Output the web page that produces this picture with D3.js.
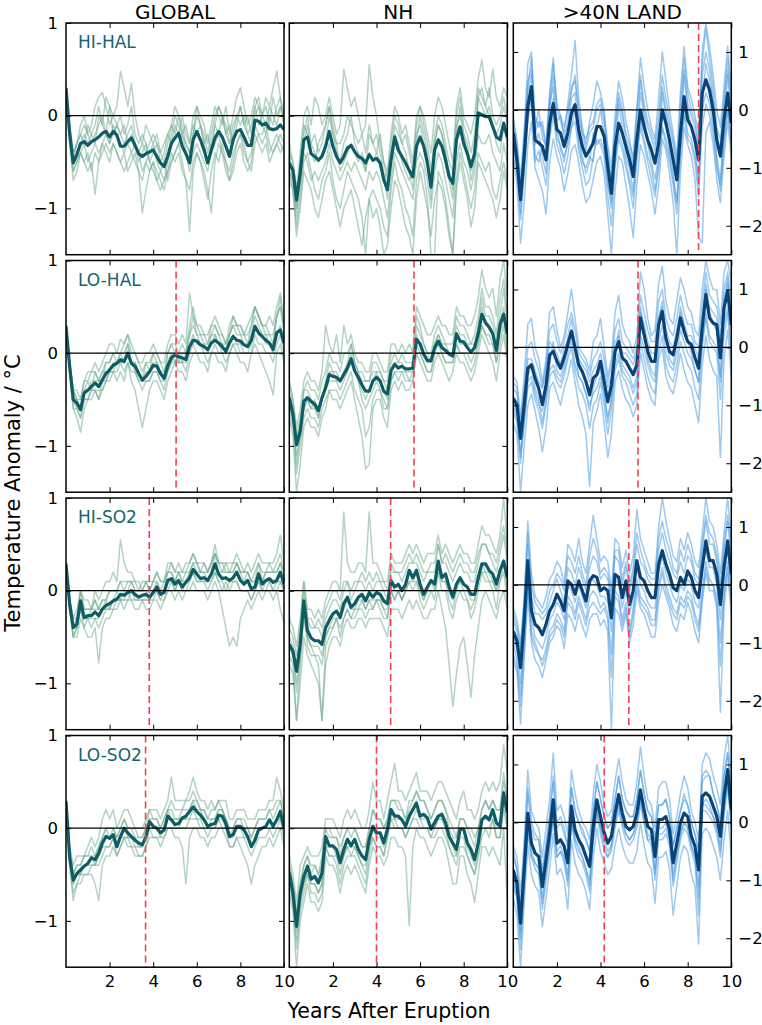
<!DOCTYPE html>
<html><head><meta charset="utf-8">
<script src="https://cdn.jsdelivr.net/npm/d3@7"></script>
<style>body{margin:0;background:#fff}svg{display:block}text{font-family:"DejaVu Sans",sans-serif}</style>
</head><body><svg id="c" width="762" height="1025"></svg>
<script>
const columns = ["GLOBAL", "NH", ">40N LAND"];
const experiments = ["HI-HAL", "LO-HAL", "HI-SO2", "LO-SO2"];
const xTicks = [2, 4, 6, 8, 10];
const yTicksLeft = [1, 0, -1];
const yTicksRight = [1, 0, -1, -2];
// recovery year (red dashed line) per experiment row, per column
const recoveryYears = [[null, null, 8.5], [5.05, 5.72, 5.72], [3.82, 4.65, 5.3], [3.65, 4.0, 4.17]];

// ---- HI-HAL ----
const hiHalGlobalMean = [0.3,-0.19,-0.51,-0.42,-0.3,-0.28,-0.32,-0.28,-0.26,-0.23,-0.19,-0.17,-0.23,-0.17,-0.21,-0.33,-0.33,-0.28,-0.24,-0.32,-0.41,-0.44,-0.41,-0.39,-0.37,-0.44,-0.51,-0.55,-0.44,-0.3,-0.24,-0.19,-0.33,-0.41,-0.51,-0.26,-0.17,-0.26,-0.37,-0.51,-0.37,-0.24,-0.17,-0.23,-0.33,-0.44,-0.26,-0.17,-0.15,-0.23,-0.32,-0.32,-0.05,-0.06,-0.1,-0.08,-0.14,-0.15,-0.14,-0.1,-0.15];
const hiHalGlobalMembers = [
[0.3,-0.1,-0.4,-0.3,-0.1,0.0,-0.2,-0.1,0.1,0.2,0.25,0.1,-0.1,0.0,0.1,0.48,0.3,0.1,0.35,0.0,-0.2,-0.3,-0.1,-0.2,-0.3,-0.2,-0.4,-0.5,-0.3,-0.1,0.1,0.0,-0.2,-0.1,-0.3,0.0,0.1,0.0,-0.1,-0.3,-0.1,0.1,0.0,-0.1,0.1,-0.2,0.0,0.2,0.3,0.1,-0.1,0.0,0.2,0.1,0.0,0.2,0.1,0.3,0.48,0.2,0.0],
[0.3,-0.3,-0.6,-0.5,-0.4,-0.5,-0.6,-0.5,-0.85,-0.5,-0.4,-0.3,-0.4,-0.3,-0.4,-0.5,-0.6,-0.5,-0.4,-0.5,-0.6,-1.05,-0.8,-0.6,-0.5,-0.6,-0.7,-0.8,-0.6,-0.5,-0.4,-0.3,-0.5,-0.7,-1.25,-0.6,-0.4,-0.5,-0.6,-0.8,-1.05,-0.5,-0.3,-0.4,-0.6,-0.7,-0.5,-0.3,-0.2,-0.4,-0.5,-0.6,-0.3,-0.2,-0.3,-0.2,-0.4,-0.3,-0.2,-0.3,-0.4],
[0.3,-0.2,-0.5,-0.4,-0.3,-0.2,-0.3,-0.2,-0.1,0.1,-0.1,0.2,0.1,-0.2,-0.1,-0.2,-0.3,-0.2,-0.1,-0.3,-0.4,-0.6,-0.5,-0.4,-0.3,-0.5,-0.6,-0.7,-0.5,-0.2,0.0,-0.1,-0.2,-0.3,-0.4,-0.2,0.1,-0.1,-0.3,-0.5,-0.3,-0.1,0.1,0.0,-0.2,-0.3,-0.1,0.0,0.1,-0.1,-0.2,-0.1,0.1,0.2,0.0,-0.1,0.1,0.0,-0.1,0.1,-0.1],
[0.3,-0.2,-0.6,-0.5,-0.4,-0.3,-0.5,-0.4,-0.3,-0.4,-0.3,-0.2,-0.3,-0.1,-0.2,-0.3,-0.4,-0.3,-0.2,-0.3,-0.5,-0.4,-0.3,-0.5,-0.6,-0.7,-0.6,-0.5,-0.7,-0.5,-0.4,-0.3,-0.2,-0.4,-0.6,-0.4,-0.3,-0.4,-0.5,-0.6,-0.4,-0.3,-0.2,-0.4,-0.5,-0.6,-0.4,-0.3,-0.2,-0.3,-0.5,-0.4,-0.1,-0.2,-0.2,-0.1,-0.3,-0.4,-0.3,-0.2,-0.3],
[0.3,-0.1,-0.4,-0.3,-0.2,-0.1,-0.2,-0.3,-0.2,-0.1,0.0,-0.2,-0.3,-0.2,-0.1,-0.2,-0.1,-0.3,-0.4,-0.3,-0.4,-0.3,-0.4,-0.3,-0.2,-0.3,-0.4,-0.3,-0.2,-0.1,-0.2,0.0,-0.1,-0.3,-0.4,-0.2,0.0,-0.1,-0.2,-0.4,-0.2,0.0,0.1,0.0,-0.1,-0.3,-0.2,0.0,-0.1,0.0,-0.2,-0.3,0.0,0.1,-0.1,-0.2,0.0,-0.1,0.1,0.2,-0.1],
[0.3,-0.2,-0.5,-0.3,-0.2,-0.3,-0.1,-0.2,-0.3,0.0,-0.1,-0.2,0.1,0.0,-0.1,0.0,-0.2,-0.1,0.1,-0.2,-0.3,-0.2,-0.3,-0.5,-0.4,-0.3,-0.5,-0.4,-0.2,-0.3,-0.1,-0.2,0.0,-0.2,-0.3,-0.1,-0.2,-0.1,-0.3,-0.2,-0.4,-0.1,-0.2,0.0,-0.2,-0.1,-0.3,-0.1,0.1,-0.1,0.0,-0.2,0.1,-0.1,0.0,0.1,-0.1,0.2,0.0,0.1,0.0],
[0.3,-0.3,-0.7,-0.6,-0.4,-0.5,-0.4,-0.6,-0.4,-0.5,-0.3,-0.4,-0.5,-0.3,-0.4,-0.5,-0.4,-0.6,-0.5,-0.4,-0.6,-0.7,-0.5,-0.6,-0.5,-0.7,-0.8,-0.7,-0.6,-0.4,-0.5,-0.4,-0.6,-0.7,-0.8,-0.5,-0.4,-0.5,-0.7,-0.9,-0.6,-0.4,-0.5,-0.3,-0.5,-0.7,-0.6,-0.4,-0.3,-0.5,-0.6,-0.5,-0.2,-0.3,-0.4,-0.3,-0.5,-0.4,-0.3,-0.4,-0.3]];
const hiHalNhMean = [-0.51,-0.59,-0.91,-0.62,-0.26,-0.23,-0.41,-0.44,-0.48,-0.44,-0.33,-0.17,-0.33,-0.44,-0.51,-0.44,-0.35,-0.32,-0.39,-0.44,-0.46,-0.51,-0.42,-0.48,-0.46,-0.51,-0.69,-0.8,-0.48,-0.23,-0.37,-0.44,-0.51,-0.59,-0.66,-0.33,-0.23,-0.33,-0.51,-0.77,-0.37,-0.26,-0.33,-0.48,-0.66,-0.73,-0.26,-0.12,-0.3,-0.41,-0.55,-0.41,0.03,0.01,-0.01,-0.01,-0.12,-0.23,-0.26,-0.08,-0.23];
const hiHalNhMembers = [
[-0.3,-0.5,-0.8,-0.4,0.0,0.1,-0.1,0.2,0.1,-0.1,0.0,0.2,0.0,-0.2,-0.1,0.5,0.3,0.1,0.2,0.0,-0.2,-0.1,0.55,0.2,0.0,-0.3,-0.5,-0.6,-0.2,0.1,0.0,-0.2,-0.1,-0.3,-0.5,0.0,0.1,0.0,-0.2,-0.4,0.0,0.2,0.1,-0.1,-0.3,-0.5,0.1,0.3,0.0,-0.1,-0.2,0.0,0.4,0.6,0.3,0.2,0.5,0.2,0.1,0.3,0.2],
[-0.7,-0.8,-1.2,-0.9,-0.5,-0.4,-0.6,-0.8,-0.9,-0.7,-0.6,-0.4,-0.7,-0.9,-1.0,-0.8,-0.6,-0.7,-0.8,-0.9,-1.1,-1.5,-0.9,-0.8,-0.9,-1.0,-1.2,-1.3,-0.8,-0.5,-0.7,-0.8,-1.0,-1.1,-1.3,-0.7,-0.5,-0.6,-0.9,-1.5,-1.5,-0.6,-0.7,-0.9,-1.2,-1.5,-0.7,-0.4,-0.6,-0.8,-1.0,-0.8,-0.4,-0.5,-0.6,-0.5,-0.8,-0.9,-0.7,-0.5,-0.7],
[-0.5,-0.6,-1.0,-0.7,-0.3,-0.1,-0.4,-0.5,-0.3,-0.2,-0.1,0.1,-0.2,-0.4,-0.5,-0.3,-0.2,0.0,-0.3,-0.4,-0.5,-0.6,-0.2,-0.3,-0.2,-0.4,-0.6,-0.9,-0.5,-0.1,-0.2,-0.3,-0.4,-0.6,-0.8,-0.3,0.0,-0.2,-0.4,-0.9,-0.3,-0.1,-0.2,-0.4,-0.7,-0.9,-0.2,0.1,-0.2,-0.3,-0.6,-0.3,0.2,0.1,0.0,0.1,-0.1,-0.2,-0.1,0.1,-0.1],
[-0.6,-0.7,-1.1,-0.8,-0.4,-0.5,-0.7,-0.6,-0.7,-0.6,-0.5,-0.3,-0.5,-0.6,-0.7,-0.6,-0.5,-0.6,-0.5,-0.6,-0.7,-0.8,-0.6,-0.7,-0.6,-0.7,-0.9,-1.1,-0.7,-0.4,-0.5,-0.6,-0.7,-0.8,-0.9,-0.5,-0.4,-0.5,-0.7,-1.0,-0.6,-0.4,-0.5,-0.7,-0.9,-1.1,-0.5,-0.3,-0.5,-0.6,-0.8,-0.6,-0.2,-0.3,-0.3,-0.2,-0.4,-0.5,-0.6,-0.3,-0.5],
[-0.4,-0.5,-0.8,-0.5,-0.1,-0.2,-0.3,-0.4,-0.5,-0.4,-0.3,0.0,-0.2,-0.3,-0.6,-0.5,-0.4,-0.3,-0.4,-0.5,-0.4,-0.6,-0.4,-0.5,-0.4,-0.5,-0.7,-0.6,-0.4,-0.2,-0.3,-0.5,-0.6,-0.7,-0.6,-0.2,-0.1,-0.3,-0.5,-0.7,-0.3,-0.1,-0.2,-0.4,-0.6,-0.8,-0.1,0.0,-0.2,-0.4,-0.7,-0.5,0.2,0.3,0.1,0.0,-0.1,-0.3,-0.4,-0.1,-0.3],
[-0.4,-0.7,-1.0,-0.6,-0.2,0.0,-0.3,-0.2,-0.4,-0.3,-0.1,0.1,-0.1,-0.3,-0.3,-0.2,0.0,-0.1,-0.2,-0.3,-0.2,-0.4,-0.1,-0.3,-0.4,-0.2,-0.5,-0.7,-0.3,0.0,-0.1,-0.3,-0.2,-0.4,-0.6,-0.1,0.1,-0.1,-0.3,-0.6,-0.2,0.0,-0.1,-0.3,-0.5,-0.6,0.0,0.2,-0.1,-0.2,-0.4,-0.2,0.3,0.2,0.1,0.3,0.0,-0.1,0.0,0.2,0.0],
[-0.6,-0.8,-1.3,-1.0,-0.6,-0.7,-0.8,-1.0,-1.1,-0.9,-0.7,-0.6,-0.8,-1.0,-1.2,-1.0,-0.9,-0.8,-1.0,-1.2,-1.4,-1.1,-0.9,-1.1,-1.0,-1.2,-1.5,-1.4,-1.0,-0.7,-0.8,-1.0,-1.2,-1.3,-1.5,-0.9,-0.6,-0.8,-1.0,-1.3,-0.9,-0.7,-0.8,-1.0,-1.3,-1.5,-0.8,-0.5,-0.7,-0.9,-1.2,-1.0,-0.5,-0.6,-0.7,-0.8,-0.9,-1.1,-0.9,-0.6,-0.8]];
const hiHalLandMean = [-0.4,-0.86,-1.55,-0.8,0.06,0.4,-0.52,-0.57,-0.63,-0.86,-0.23,0.11,-0.34,-0.4,-0.63,-0.4,-0.06,0.09,-0.34,-0.63,-0.8,-0.69,-0.57,-0.29,-0.29,-0.46,-0.98,-1.44,-0.63,-0.23,-0.4,-0.63,-0.86,-1.15,-0.52,0.0,-0.29,-0.52,-0.69,-0.92,-0.57,0.0,-0.23,-0.52,-0.86,-1.21,-0.4,0.23,-0.17,-0.29,-0.52,-0.86,0.29,0.52,0.34,0.0,-0.52,-0.8,-0.17,0.29,-0.23];
const hiHalLandMembers = [
[-0.2,-0.5,-1.2,-0.3,0.8,1.0,-0.3,0.0,-0.5,-0.6,0.3,0.9,0.0,-0.2,-0.4,0.1,0.6,1.2,0.2,-0.3,-0.6,-0.2,0.1,0.5,0.3,0.0,-0.6,-1.0,-0.1,0.5,0.2,-0.2,-0.5,-0.9,0.0,0.9,0.4,0.0,-0.3,-0.5,0.2,1.0,0.5,0.0,-0.4,-0.8,0.3,1.1,0.4,0.2,-0.1,-0.4,1.0,1.5,1.1,0.6,0.0,-0.3,0.4,1.1,0.4],
[-0.8,-1.3,-2.3,-1.6,-0.6,-0.2,-1.0,-1.2,-1.4,-1.8,-0.9,-0.5,-0.8,-1.0,-1.4,-1.1,-0.7,-0.6,-0.9,-1.3,-1.6,-1.5,-1.2,-0.9,-0.8,-1.1,-1.8,-2.5,-1.4,-0.8,-0.9,-1.3,-1.7,-2.2,-1.3,-0.6,-0.8,-1.1,-1.4,-1.8,-1.3,-0.5,-0.7,-1.1,-1.6,-2.5,-1.1,-0.3,-0.6,-0.8,-1.2,-2.2,-2.3,-0.4,-0.2,-0.6,-1.2,-1.6,-0.8,-0.2,-0.8],
[-0.3,-0.9,-1.8,-0.7,0.3,0.6,-0.6,-0.4,-0.8,-1.1,0.1,0.4,-0.5,-0.6,-0.9,-0.5,0.2,0.3,-0.6,-0.9,-1.0,-0.8,-0.9,-0.3,0.0,-0.4,-1.2,-1.7,-0.8,0.1,-0.3,-0.8,-1.0,-1.4,-0.6,0.3,-0.1,-0.6,-0.9,-1.2,-0.8,0.3,-0.1,-0.7,-1.1,-1.6,-0.6,0.6,0.0,-0.3,-0.6,-1.3,0.2,0.8,0.5,0.1,-0.8,-1.2,-0.3,0.6,-0.1],
[-0.6,-1.1,-1.6,-1.0,0.0,0.3,-0.8,-0.9,-0.6,-0.9,-0.4,0.2,-0.3,-0.7,-0.8,-0.6,-0.3,0.0,-0.5,-0.8,-1.1,-0.9,-0.4,-0.6,-0.5,-0.7,-1.3,-1.6,-0.9,-0.4,-0.6,-0.9,-1.2,-1.5,-0.8,-0.2,-0.5,-0.8,-1.0,-1.4,-0.9,-0.3,-0.6,-0.9,-1.3,-1.8,-0.7,0.0,-0.4,-0.5,-0.8,-1.2,0.0,0.3,0.1,-0.3,-0.9,-1.4,-0.6,0.0,-0.5],
[-0.1,-0.6,-1.4,-0.5,0.4,0.9,-0.1,-0.3,-0.2,-0.6,0.2,0.8,0.1,-0.1,-0.3,0.0,0.3,0.6,0.0,-0.4,-0.5,-0.3,-0.2,0.1,0.2,-0.1,-0.8,-1.2,-0.3,0.3,0.0,-0.4,-0.6,-0.8,0.0,0.6,0.1,-0.2,-0.4,-0.6,-0.1,0.6,0.2,-0.2,-0.5,-0.9,0.1,0.9,0.3,0.0,-0.2,-0.6,0.8,1.4,0.9,0.4,-0.3,-0.5,0.2,0.9,0.2],
[-0.5,-1.0,-1.9,-1.1,-0.2,0.2,-0.9,-0.7,-1.0,-1.3,-0.5,-0.1,-0.6,-0.8,-1.1,-0.8,-0.3,-0.2,-0.7,-1.0,-1.3,-1.2,-0.8,-0.5,-0.6,-0.8,-1.5,-2.0,-1.0,-0.5,-0.7,-1.0,-1.3,-1.7,-0.9,-0.3,-0.6,-0.9,-1.2,-1.5,-1.0,-0.3,-0.5,-0.8,-1.2,-1.6,-0.8,-0.1,-0.5,-0.6,-0.9,-1.5,-0.3,0.1,-0.1,-0.4,-1.0,-1.3,-0.5,0.0,-0.6],
[-0.3,-0.7,-1.3,-0.6,0.5,0.7,-0.4,-0.2,-0.3,-0.7,0.0,0.6,-0.2,-0.1,-0.5,-0.2,0.4,0.5,-0.1,-0.4,-0.7,-0.4,-0.3,0.0,0.1,-0.2,-0.7,-1.3,-0.4,0.2,-0.1,-0.5,-0.7,-1.0,-0.3,0.5,0.0,-0.3,-0.5,-0.7,-0.3,0.4,0.0,-0.3,-0.6,-1.0,-0.2,0.7,0.1,-0.1,-0.3,-0.7,0.6,1.0,0.7,0.2,-0.4,-0.7,0.1,0.7,0.1]];

// ---- LO-HAL ----
const loHalGlobalMean = [0.29,-0.14,-0.5,-0.54,-0.61,-0.43,-0.4,-0.36,-0.32,-0.36,-0.29,-0.22,-0.18,-0.13,-0.11,-0.07,-0.09,0.0,-0.11,-0.14,-0.22,-0.29,-0.25,-0.2,-0.13,-0.14,-0.22,-0.27,-0.14,-0.05,-0.02,-0.04,-0.05,-0.07,0.07,0.14,0.13,0.09,0.07,0.04,0.11,0.14,0.11,0.07,0.02,0.11,0.18,0.14,0.13,0.09,0.07,0.14,0.29,0.22,0.18,0.14,0.11,0.04,0.22,0.25,0.11];
const loHalGlobalMembers = [
[0.3,-0.2,-0.6,-0.7,-0.85,-0.6,-0.5,-0.5,-0.4,-0.5,-0.4,-0.3,-0.3,-0.2,-0.3,-0.2,-0.3,-0.1,-0.3,-0.4,-0.6,-0.8,-0.6,-0.4,-0.3,-0.3,-0.4,-0.5,-0.3,-0.2,-0.1,-0.2,-0.2,-0.3,-0.1,0.0,0.0,-0.1,-0.1,-0.2,0.0,0.0,-0.1,-0.1,-0.2,0.0,0.1,0.0,-0.1,-0.1,-0.2,0.0,0.1,0.0,-0.1,-0.2,-0.3,-0.45,0.0,0.1,-0.1],
[0.3,-0.1,-0.4,-0.4,-0.5,-0.3,-0.2,-0.2,-0.1,-0.2,-0.1,0.0,0.1,0.1,0.0,0.15,0.1,0.2,0.1,0.0,-0.1,-0.1,0.0,0.0,0.1,0.0,-0.1,-0.1,0.1,0.2,0.2,0.1,0.2,0.1,0.65,0.4,0.3,0.3,0.2,0.2,0.3,0.4,0.3,0.2,0.1,0.3,0.4,0.3,0.3,0.2,0.3,0.4,0.5,0.4,0.3,0.3,0.4,0.3,0.5,0.65,0.3],
[0.3,-0.2,-0.5,-0.6,-0.7,-0.5,-0.5,-0.4,-0.4,-0.5,-0.3,-0.3,-0.2,-0.2,-0.1,0.0,-0.1,0.0,-0.1,-0.2,-0.3,-0.4,-0.3,-0.3,-0.2,-0.2,-0.3,-0.4,-0.2,-0.1,0.0,-0.1,0.0,0.0,0.2,0.3,0.2,0.1,0.1,0.0,0.2,0.2,0.1,0.1,0.0,0.2,0.3,0.2,0.2,0.1,0.1,0.2,0.4,0.3,0.2,0.2,0.1,0.1,0.4,0.5,0.2],
[0.3,-0.1,-0.5,-0.5,-0.6,-0.4,-0.4,-0.3,-0.3,-0.3,-0.2,-0.2,-0.2,-0.1,-0.1,-0.1,-0.1,0.1,-0.1,-0.1,-0.2,-0.3,-0.2,-0.2,-0.1,-0.1,-0.2,-0.2,-0.1,0.0,-0.1,0.0,-0.1,-0.1,0.1,0.2,0.1,0.1,0.0,0.0,0.1,0.2,0.1,0.0,0.0,0.1,0.2,0.1,0.1,0.0,0.0,0.1,0.3,0.2,0.2,0.1,0.1,0.0,0.2,0.3,0.1],
[0.3,-0.1,-0.4,-0.5,-0.6,-0.4,-0.3,-0.4,-0.2,-0.3,-0.3,-0.1,-0.1,0.0,-0.1,0.0,0.0,0.1,-0.1,-0.1,-0.2,-0.3,-0.1,-0.2,0.0,-0.1,-0.2,-0.3,0.0,0.1,0.0,-0.1,-0.1,0.0,0.2,0.4,0.2,0.2,0.1,0.1,0.2,0.3,0.2,0.1,0.1,0.2,0.3,0.3,0.2,0.2,0.1,0.3,0.5,0.4,0.3,0.2,0.2,0.1,0.4,0.6,0.3],
[0.3,-0.2,-0.6,-0.6,-0.7,-0.5,-0.5,-0.4,-0.4,-0.4,-0.4,-0.3,-0.2,-0.2,-0.2,-0.1,-0.2,-0.1,-0.2,-0.2,-0.3,-0.3,-0.3,-0.3,-0.2,-0.2,-0.3,-0.3,-0.2,-0.1,-0.1,-0.1,-0.1,-0.2,0.0,0.1,0.0,0.0,0.0,-0.1,0.0,0.1,0.0,0.0,-0.1,0.0,0.1,0.1,0.0,0.0,0.0,0.0,0.2,0.1,0.1,0.0,0.0,-0.1,0.1,0.2,0.0],
[0.3,-0.1,-0.4,-0.5,-0.5,-0.3,-0.3,-0.2,-0.2,-0.3,-0.2,-0.1,-0.1,0.0,0.0,0.0,0.1,0.2,0.0,0.0,-0.1,-0.2,-0.1,-0.1,0.0,0.0,-0.1,-0.2,0.0,0.1,0.1,0.0,0.1,0.0,0.3,0.5,0.3,0.2,0.2,0.1,0.3,0.3,0.2,0.2,0.1,0.2,0.4,0.3,0.3,0.2,0.2,0.3,0.5,0.4,0.3,0.3,0.2,0.2,0.4,0.5,0.3]];
const loHalNhMean = [-0.48,-0.66,-0.99,-0.84,-0.52,-0.48,-0.52,-0.55,-0.62,-0.48,-0.37,-0.23,-0.25,-0.26,-0.3,-0.23,-0.16,-0.06,-0.19,-0.26,-0.34,-0.41,-0.41,-0.3,-0.26,-0.3,-0.41,-0.44,-0.19,-0.12,-0.16,-0.14,-0.17,-0.17,-0.16,0.15,0.1,-0.01,-0.08,-0.08,0.06,0.13,0.06,0.03,-0.01,-0.03,0.21,0.13,0.12,0.06,0.01,0.06,0.21,0.42,0.33,0.28,0.21,0.03,0.31,0.42,0.21];
const loHalNhMembers = [
[-0.7,-0.9,-1.5,-1.2,-0.8,-0.7,-0.8,-0.8,-0.9,-0.7,-0.6,-0.4,-0.5,-0.5,-0.6,-0.5,-0.4,-0.3,-0.5,-0.7,-0.9,-1.25,-1.2,-0.6,-0.5,-0.5,-0.7,-0.8,-0.4,-0.3,-0.4,-0.3,-0.4,-0.4,-0.3,0.0,-0.1,-0.2,-0.3,-0.3,-0.1,0.0,-0.1,-0.2,-0.3,-0.2,0.0,-0.1,-0.1,-0.2,-0.3,-0.2,0.0,0.2,0.1,0.0,-0.1,-0.3,0.0,0.2,-0.1],
[-0.3,-0.5,-0.8,-0.6,-0.3,-0.2,-0.3,-0.3,-0.4,-0.2,0.3,0.1,0.0,0.2,-0.1,0.3,0.1,0.2,0.0,-0.1,-0.1,-0.2,-0.2,0.0,0.0,-0.1,-0.2,-0.2,0.1,0.1,0.0,0.1,0.0,0.1,0.0,0.5,0.4,0.3,0.2,0.2,0.3,0.4,0.3,0.3,0.2,0.2,0.5,0.4,0.4,0.3,0.3,0.4,0.6,0.9,0.7,0.6,0.7,0.4,0.8,1.0,0.6],
[-0.5,-0.7,-1.1,-0.9,-0.6,-0.5,-0.6,-0.5,-0.7,-0.5,-0.4,-0.2,-0.2,-0.3,-0.3,-0.2,-0.2,0.0,-0.2,-0.3,-0.4,-0.5,-0.4,-0.3,-0.2,-0.3,-0.4,-0.5,-0.2,-0.1,-0.1,-0.1,-0.2,-0.2,-0.2,0.2,0.1,0.0,-0.1,-0.1,0.1,0.2,0.1,0.0,0.0,0.0,0.2,0.1,0.1,0.1,0.0,0.1,0.2,0.5,0.3,0.3,0.2,0.0,0.3,0.5,0.2],
[-0.4,-0.6,-0.9,-0.8,-0.4,-0.4,-0.5,-0.6,-0.6,-0.5,-0.3,-0.1,-0.2,-0.2,-0.3,-0.2,-0.1,0.1,-0.1,-0.2,-0.3,-0.3,-0.3,-0.2,-0.2,-0.2,-0.3,-0.4,-0.1,0.0,-0.1,0.0,-0.1,-0.1,-0.1,0.3,0.2,0.1,0.0,-0.1,0.1,0.2,0.1,0.1,0.0,0.0,0.3,0.2,0.2,0.1,0.1,0.1,0.3,0.6,0.4,0.4,0.3,0.1,0.4,0.7,0.3],
[-0.6,-0.8,-1.3,-1.0,-0.7,-0.6,-0.7,-0.7,-0.8,-0.6,-0.5,-0.4,-0.4,-0.4,-0.5,-0.4,-0.3,-0.2,-0.4,-0.5,-0.6,-0.9,-0.8,-0.5,-0.4,-0.4,-0.6,-0.6,-0.3,-0.2,-0.3,-0.2,-0.3,-0.3,-0.3,0.0,0.0,-0.1,-0.2,-0.2,0.0,0.1,0.0,-0.1,-0.1,-0.1,0.1,0.0,0.0,-0.1,-0.2,-0.1,0.1,0.3,0.2,0.1,0.1,-0.1,0.1,0.3,0.0],
[-0.5,-0.7,-1.2,-0.9,-0.6,-0.5,-0.6,-0.6,-0.7,-0.5,-0.4,-0.3,-0.3,-0.3,-0.4,-0.3,-0.2,-0.1,-0.2,-0.3,-0.5,-0.6,-0.5,-0.4,-0.3,-0.4,-0.5,-0.6,-0.3,-0.2,-0.2,-0.2,-0.2,-0.3,-0.2,0.1,0.0,-0.1,-0.2,-0.2,0.0,0.0,0.0,-0.1,-0.1,-0.1,0.1,0.0,0.0,0.0,-0.1,0.0,0.1,0.3,0.2,0.2,0.1,-0.1,0.2,0.4,0.1],
[-0.3,-0.5,-0.9,-0.7,-0.4,-0.3,-0.4,-0.4,-0.5,-0.3,-0.2,0.0,-0.1,-0.1,-0.2,0.0,0.0,0.1,-0.1,-0.2,-0.2,-0.3,-0.3,-0.1,-0.1,-0.2,-0.3,-0.3,0.0,0.0,0.0,0.0,0.0,0.0,0.0,0.4,0.3,0.1,0.0,0.0,0.2,0.3,0.2,0.1,0.1,0.1,0.4,0.3,0.3,0.2,0.1,0.2,0.4,0.7,0.5,0.5,0.4,0.2,0.6,0.8,0.4]];
const loHalLandMean = [-0.88,-0.99,-1.57,-0.99,-0.36,-0.3,-0.53,-0.71,-0.99,-0.65,-0.13,-0.07,-0.24,-0.36,-0.18,0.05,0.28,-0.01,-0.3,-0.42,-0.59,-0.82,-0.53,-0.47,-0.24,-0.59,-0.94,-0.65,-0.07,0.1,-0.18,-0.24,-0.36,-0.47,-0.3,0.51,0.22,-0.07,-0.24,-0.24,0.39,0.62,0.16,-0.07,-0.13,0.16,0.51,0.28,0.1,0.05,-0.18,-0.36,0.34,0.91,0.51,0.42,0.39,-0.18,0.68,0.97,0.39];
const loHalLandMembers = [
[-0.5,-0.6,-1.2,-0.5,0.4,0.5,0.0,-0.2,-0.6,-0.2,0.6,0.7,0.3,0.0,0.2,0.6,1.0,0.5,0.0,-0.1,-0.2,-0.4,0.1,0.2,0.5,0.0,-0.5,-0.2,0.6,0.9,0.4,0.2,0.1,-0.1,0.2,1.3,1.0,0.5,0.2,0.3,1.1,1.4,0.8,0.5,0.4,0.8,1.2,1.0,0.7,0.6,0.3,0.2,1.0,1.5,1.2,1.0,1.0,0.4,1.3,1.5,1.1],
[-1.3,-1.5,-2.5,-1.7,-1.0,-0.8,-1.1,-1.4,-1.8,-1.4,-0.7,-0.6,-0.8,-1.0,-0.7,-0.5,-0.2,-0.6,-1.0,-1.2,-1.5,-2.4,-1.3,-1.1,-0.8,-1.3,-1.9,-1.5,-0.6,-0.4,-0.7,-0.9,-1.0,-1.2,-1.0,-0.1,-0.4,-0.7,-0.9,-1.0,-0.2,0.0,-0.5,-0.7,-0.8,-0.5,-0.1,-0.4,-0.6,-0.7,-1.0,-1.3,-0.3,0.2,-0.2,-0.4,-0.5,-1.9,-0.2,0.3,-0.5],
[-0.9,-1.1,-1.9,-1.2,-0.5,-0.3,-0.7,-0.9,-1.3,-0.9,-0.3,0.1,-0.4,-0.5,-0.3,0.2,0.5,0.0,-0.5,-0.6,-0.8,-1.1,-0.7,-0.5,-0.4,-0.8,-1.3,-0.9,-0.2,0.3,-0.3,-0.4,-0.5,-0.7,-0.5,0.7,0.3,-0.2,-0.4,-0.5,0.5,0.8,0.2,-0.2,-0.3,0.1,0.7,0.4,0.1,-0.1,-0.4,-0.6,0.4,1.1,0.6,0.4,0.3,-0.6,0.8,1.2,0.3],
[-0.7,-0.8,-1.4,-0.8,-0.2,-0.2,-0.4,-0.6,-0.7,-0.4,0.1,0.0,-0.1,-0.3,0.0,0.1,0.3,0.1,-0.2,-0.3,-0.4,-0.6,-0.4,-0.3,-0.1,-0.4,-0.7,-0.5,0.1,0.2,-0.1,-0.1,-0.2,-0.3,-0.1,0.6,0.4,0.1,-0.1,-0.1,0.5,0.7,0.3,0.1,0.0,0.3,0.6,0.4,0.2,0.2,0.0,-0.2,0.5,1.0,0.7,0.6,0.5,0.0,0.8,1.1,0.6],
[-1.0,-1.2,-1.8,-1.3,-0.6,-0.5,-0.8,-1.0,-1.1,-0.8,-0.4,-0.3,-0.5,-0.6,-0.4,-0.1,0.1,-0.3,-0.5,-0.6,-0.8,-1.0,-0.8,-0.7,-0.5,-0.8,-1.2,-0.9,-0.3,-0.1,-0.4,-0.5,-0.6,-0.8,-0.6,0.2,0.0,-0.3,-0.5,-0.6,0.1,0.4,-0.1,-0.3,-0.4,-0.1,0.3,0.1,-0.1,-0.2,-0.4,-0.6,0.1,0.6,0.2,0.1,0.0,-0.5,0.4,0.7,0.0],
[-1.1,-1.3,-2.0,-1.3,-0.7,-0.6,-0.9,-1.1,-1.4,-1.0,-0.5,-0.4,-0.6,-0.7,-0.5,-0.2,0.0,-0.4,-0.7,-0.8,-1.0,-1.4,-1.0,-0.9,-0.6,-1.0,-1.5,-1.1,-0.4,-0.2,-0.5,-0.6,-0.8,-1.0,-0.8,0.1,-0.2,-0.5,-0.7,-0.8,-0.1,0.2,-0.3,-0.5,-0.6,-0.3,0.1,-0.1,-0.3,-0.4,-0.7,-0.9,0.0,0.5,0.1,0.0,-0.1,-0.9,0.2,0.6,-0.2],
[-0.6,-0.7,-1.3,-0.7,0.0,0.1,-0.2,-0.4,-0.7,-0.3,0.3,0.4,0.1,-0.1,0.1,0.4,0.6,0.3,-0.1,-0.2,-0.3,-0.5,-0.2,-0.1,0.1,-0.2,-0.6,-0.3,0.3,0.5,0.1,0.0,-0.1,-0.2,0.0,0.9,0.6,0.3,0.1,0.1,0.8,1.0,0.5,0.3,0.2,0.5,0.9,0.6,0.4,0.4,0.1,0.0,0.7,1.3,0.9,0.8,0.7,0.2,1.0,1.3,0.8]];

// ---- HI-SO2 ----
const hiSo2GlobalMean = [0.29,-0.14,-0.4,-0.36,-0.11,-0.29,-0.27,-0.27,-0.23,-0.27,-0.2,-0.16,-0.14,-0.11,-0.09,-0.04,-0.05,-0.02,0.0,-0.04,-0.07,-0.05,-0.04,-0.07,-0.02,0.04,-0.04,-0.02,0.11,0.13,0.07,0.11,0.04,0.09,0.14,0.23,0.18,0.13,0.14,0.11,0.18,0.29,0.18,0.13,0.14,0.11,0.14,0.2,0.11,0.07,0.11,0.02,0.04,0.18,0.07,0.11,0.13,0.09,0.11,0.2,0.07];
const hiSo2GlobalMembers = [
[0.3,-0.2,-0.5,-0.5,-0.3,-0.4,-0.5,-0.5,-0.4,-0.78,-0.4,-0.3,-0.3,-0.2,-0.2,-0.1,-0.2,-0.1,-0.1,-0.2,-0.2,-0.1,-0.2,-0.2,-0.1,-0.1,-0.2,-0.1,0.0,0.0,-0.1,0.0,-0.1,0.0,0.0,0.1,0.0,0.0,0.0,-0.1,0.0,0.1,0.0,-0.2,-0.4,-0.6,-0.5,-0.6,-0.3,-0.2,-0.1,-0.2,-0.1,0.0,-0.1,0.0,0.0,-0.1,0.0,-0.2,-0.35],
[0.3,-0.1,-0.3,-0.2,0.0,-0.1,-0.1,-0.2,0.0,-0.1,0.0,0.1,0.1,0.2,0.1,0.55,0.3,0.2,0.2,0.1,0.1,0.0,0.1,0.1,0.1,0.2,0.1,0.1,0.3,0.3,0.2,0.3,0.2,0.3,0.3,0.4,0.3,0.3,0.3,0.2,0.3,0.5,0.3,0.3,0.3,0.3,0.3,0.4,0.3,0.2,0.3,0.2,0.3,0.4,0.3,0.3,0.3,0.3,0.4,0.6,0.3],
[0.3,-0.2,-0.5,-0.4,-0.2,-0.3,-0.3,-0.3,-0.3,-0.3,-0.2,-0.2,-0.2,-0.1,-0.1,-0.1,0.0,0.0,0.1,0.0,0.0,0.0,0.0,-0.1,0.0,0.1,0.0,0.0,0.2,0.2,0.1,0.2,0.1,0.2,0.2,0.3,0.3,0.2,0.2,0.2,0.3,0.4,0.3,0.2,0.2,0.2,0.2,0.3,0.2,0.1,0.2,0.1,0.1,0.3,0.1,0.2,0.2,0.2,0.2,0.3,0.1],
[0.3,-0.1,-0.4,-0.4,-0.1,-0.3,-0.3,-0.2,-0.2,-0.2,-0.2,-0.1,-0.2,-0.1,0.0,-0.1,-0.1,0.0,-0.1,-0.1,-0.1,-0.1,-0.1,-0.1,-0.1,0.0,-0.1,-0.1,0.0,0.1,0.0,0.1,0.0,0.0,0.1,0.2,0.1,0.1,0.1,0.1,0.1,0.2,0.1,0.1,0.0,0.1,0.1,0.1,0.0,0.0,0.0,-0.1,0.0,0.1,0.0,0.0,0.1,0.0,0.0,0.1,0.0],
[0.3,-0.1,-0.4,-0.3,0.0,-0.2,-0.2,-0.2,-0.1,-0.2,-0.1,-0.1,0.0,0.0,0.0,0.1,0.1,0.1,0.1,0.1,0.0,0.1,0.1,0.0,0.1,0.2,0.1,0.1,0.2,0.2,0.1,0.2,0.1,0.1,0.2,0.3,0.2,0.2,0.2,0.1,0.2,0.4,0.2,0.2,0.3,0.2,0.2,0.3,0.2,0.2,0.2,0.1,0.1,0.2,0.1,0.2,0.2,0.2,0.2,0.3,0.2],
[0.3,-0.2,-0.5,-0.4,-0.2,-0.4,-0.3,-0.4,-0.3,-0.4,-0.3,-0.2,-0.2,-0.2,-0.1,-0.1,-0.1,-0.1,0.0,-0.1,-0.1,-0.1,-0.1,-0.1,0.0,0.0,-0.1,0.0,0.1,0.1,0.0,0.1,0.0,0.1,0.1,0.2,0.1,0.1,0.1,0.0,0.1,0.2,0.1,0.0,0.1,0.0,0.1,0.1,0.0,0.0,0.0,-0.1,0.0,0.1,0.0,0.1,0.1,0.0,0.1,0.1,0.0],
[0.3,-0.1,-0.3,-0.3,0.0,-0.2,-0.2,-0.2,-0.1,-0.2,-0.1,-0.1,0.0,0.0,0.0,0.1,0.0,0.1,0.1,0.0,0.0,0.0,0.1,0.0,0.1,0.1,0.0,0.1,0.2,0.3,0.2,0.2,0.2,0.2,0.3,0.4,0.3,0.2,0.3,0.2,0.3,0.4,0.3,0.3,0.2,0.2,0.3,0.3,0.2,0.2,0.2,0.1,0.2,0.3,0.2,0.2,0.3,0.2,0.3,0.4,0.2]];
const hiSo2NhMean = [-0.58,-0.65,-0.87,-0.58,-0.11,-0.43,-0.51,-0.54,-0.54,-0.58,-0.4,-0.32,-0.25,-0.22,-0.29,-0.14,-0.07,-0.18,-0.14,-0.07,-0.04,-0.11,-0.02,-0.07,-0.02,-0.04,-0.11,-0.14,0.11,0.04,0.07,0.0,0.07,0.22,0.14,0.22,0.07,-0.04,0.04,0.11,0.07,0.32,0.14,0.18,0.04,-0.07,0.07,0.14,0.07,0.04,-0.04,-0.04,0.14,0.29,0.29,0.22,0.18,0.07,0.22,0.32,0.14];
const hiSo2NhMembers = [
[-0.8,-0.9,-1.4,-1.0,-0.5,-0.7,-0.8,-0.9,-1.0,-1.4,-0.8,-0.6,-0.5,-0.5,-0.6,-0.4,-0.3,-0.4,-0.4,-0.3,-0.3,-0.4,-0.3,-0.3,-0.3,-0.3,-0.4,-0.5,-0.2,-0.2,-0.2,-0.3,-0.2,-0.1,-0.2,-0.1,-0.2,-0.3,-0.3,-0.2,-0.2,0.0,-0.2,-0.4,-0.8,-1.25,-0.9,-0.6,-0.5,-0.8,-1.15,-0.7,-0.4,-0.1,0.0,-0.1,-0.2,-0.3,-0.1,0.0,-0.2],
[-0.3,-0.4,-0.6,-0.3,0.1,-0.2,-0.2,-0.3,-0.2,-0.3,-0.1,0.0,0.1,0.1,0.0,0.85,0.3,0.2,0.2,0.3,0.3,0.2,0.85,0.3,0.3,0.2,0.1,0.1,0.4,0.3,0.3,0.3,0.4,0.5,0.4,0.5,0.4,0.3,0.4,0.4,0.4,0.6,0.4,0.5,0.4,0.3,0.4,0.5,0.4,0.4,0.3,0.3,0.5,0.7,0.6,0.6,0.5,0.4,0.6,1.0,0.5],
[-0.6,-0.7,-1.0,-0.7,-0.2,-0.5,-0.6,-0.6,-0.6,-0.7,-0.5,-0.4,-0.3,-0.3,-0.3,-0.2,-0.1,-0.2,-0.2,-0.1,-0.1,-0.2,-0.1,-0.1,-0.1,-0.1,-0.2,-0.2,0.1,0.0,0.0,-0.1,0.0,0.2,0.1,0.2,0.0,-0.1,0.0,0.1,0.0,0.3,0.1,0.1,0.0,-0.1,0.0,0.1,0.0,0.0,-0.1,-0.1,0.1,0.3,0.2,0.2,0.1,0.0,0.2,0.3,0.1],
[-0.5,-0.6,-0.8,-0.5,0.0,-0.3,-0.4,-0.4,-0.4,-0.5,-0.3,-0.2,-0.1,-0.1,-0.2,0.0,0.1,-0.1,0.0,0.1,0.1,0.0,0.1,0.0,0.1,0.1,0.0,-0.1,0.2,0.2,0.2,0.1,0.2,0.3,0.3,0.3,0.2,0.1,0.2,0.2,0.2,0.5,0.3,0.3,0.2,0.1,0.2,0.3,0.2,0.2,0.1,0.1,0.3,0.5,0.5,0.4,0.3,0.2,0.4,0.6,0.3],
[-0.7,-0.8,-1.4,-0.8,-0.2,-0.6,-0.7,-0.7,-0.8,-1.4,-0.6,-0.5,-0.4,-0.3,-0.5,-0.3,-0.2,-0.3,-0.3,-0.2,-0.2,-0.3,-0.2,-0.2,-0.1,-0.2,-0.3,-0.3,0.0,-0.1,0.0,-0.1,0.0,0.1,0.0,0.1,-0.1,-0.2,-0.1,0.0,-0.1,0.2,0.0,0.0,-0.2,-0.3,-0.1,0.0,-0.1,-0.1,-0.3,-0.2,0.0,0.2,0.1,0.1,0.0,-0.2,0.1,0.2,-0.1],
[-0.6,-0.7,-1.1,-0.7,-0.3,-0.5,-0.6,-0.7,-0.7,-0.8,-0.5,-0.4,-0.4,-0.3,-0.4,-0.3,-0.2,-0.3,-0.2,-0.2,-0.1,-0.2,-0.1,-0.2,-0.1,-0.1,-0.2,-0.3,0.0,-0.1,0.0,-0.1,0.0,0.1,0.1,0.1,0.0,-0.1,0.0,0.0,0.0,0.2,0.1,0.1,-0.1,-0.2,0.0,0.0,0.0,-0.1,-0.2,-0.1,0.1,0.2,0.2,0.1,0.1,0.0,0.1,0.3,0.0],
[-0.4,-0.5,-0.7,-0.4,0.1,-0.3,-0.3,-0.4,-0.3,-0.4,-0.2,-0.1,0.0,0.0,-0.1,0.1,0.1,0.0,0.1,0.1,0.2,0.1,0.2,0.1,0.2,0.1,0.1,0.0,0.3,0.2,0.2,0.2,0.3,0.4,0.3,0.4,0.3,0.2,0.2,0.3,0.3,0.5,0.3,0.4,0.3,0.2,0.3,0.4,0.3,0.3,0.2,0.2,0.4,0.5,0.5,0.4,0.4,0.3,0.5,0.7,0.4]];
const hiSo2LandMean = [-0.8,-0.97,-1.43,-0.62,0.42,-0.45,-0.68,-0.74,-0.86,-0.68,-0.45,-0.34,-0.16,-0.28,-0.45,0.07,0.01,-0.16,0.07,-0.1,-0.28,0.07,0.16,0.13,-0.1,-0.05,-0.1,-0.57,0.18,0.13,-0.22,0.07,-0.34,-0.1,0.42,0.13,0.07,-0.1,-0.22,-0.22,0.36,0.59,0.36,0.18,-0.05,-0.1,0.13,0.01,0.24,0.13,-0.1,-0.22,0.3,0.76,0.42,0.42,0.18,-0.34,0.3,0.76,0.18];
const hiSo2LandMembers = [
[-0.4,-0.6,-1.0,-0.2,1.1,0.2,-0.2,-0.3,-0.4,-0.2,0.1,0.2,0.4,0.3,0.0,0.7,0.6,0.4,0.8,0.4,0.2,0.7,1.2,0.8,0.4,0.5,0.4,-0.1,0.8,0.7,0.3,0.6,0.2,0.5,1.3,0.8,0.6,0.4,0.2,0.2,1.0,1.5,1.1,0.8,0.5,0.4,0.8,0.6,0.9,0.7,0.4,0.3,0.9,1.5,1.1,1.0,0.7,0.2,0.9,1.5,0.8],
[-1.3,-1.5,-2.4,-1.3,-0.2,-1.0,-1.3,-1.4,-1.6,-1.3,-1.0,-0.9,-0.7,-0.8,-1.1,-0.5,-0.6,-0.8,-0.5,-0.7,-0.9,-0.6,-0.5,-0.5,-0.7,-0.6,-0.8,-2.5,-0.4,-0.5,-0.8,-0.5,-1.0,-0.7,-0.1,-0.4,-0.5,-0.7,-0.9,-0.9,-0.3,0.0,-0.2,-0.4,-0.7,-0.8,-0.5,-0.6,-0.3,-0.5,-0.8,-1.0,-0.3,0.2,-0.1,-0.1,-0.4,-2.2,-0.4,0.2,-0.5],
[-0.9,-1.1,-1.7,-0.8,0.3,-0.6,-0.9,-1.0,-1.1,-0.9,-0.6,-0.5,-0.3,-0.4,-0.6,0.0,-0.1,-0.3,0.0,-0.2,-0.4,0.0,0.1,0.0,-0.2,-0.2,-0.3,-0.8,0.1,0.0,-0.4,-0.1,-0.5,-0.2,0.3,0.0,-0.1,-0.3,-0.4,-0.4,0.2,0.5,0.2,0.0,-0.2,-0.3,0.0,-0.1,0.1,0.0,-0.3,-0.4,0.2,0.6,0.3,0.3,0.0,-0.6,0.2,0.6,0.0],
[-0.6,-0.8,-1.2,-0.4,0.7,-0.2,-0.5,-0.5,-0.6,-0.5,-0.3,-0.1,0.1,-0.1,-0.3,0.3,0.2,0.0,0.3,0.1,-0.1,0.3,0.5,0.4,0.1,0.2,0.1,-0.3,0.5,0.4,0.0,0.3,-0.1,0.2,0.7,0.4,0.3,0.1,0.0,0.0,0.6,0.9,0.6,0.4,0.2,0.1,0.4,0.2,0.5,0.4,0.1,0.0,0.6,1.1,0.7,0.7,0.4,-0.1,0.6,1.1,0.5],
[-1.0,-1.3,-1.9,-1.0,0.1,-0.8,-1.0,-1.2,-1.3,-1.1,-0.8,-0.7,-0.5,-0.6,-0.8,-0.2,-0.3,-0.5,-0.2,-0.4,-0.6,-0.2,-0.1,-0.2,-0.4,-0.3,-0.5,-1.2,-0.1,-0.2,-0.6,-0.3,-0.8,-0.4,0.1,-0.2,-0.3,-0.4,-0.6,-0.6,0.0,0.3,0.0,-0.2,-0.4,-0.5,-0.2,-0.3,-0.1,-0.2,-0.5,-0.7,-0.1,0.4,0.1,0.0,-0.2,-1.0,-0.1,0.4,-0.2],
[-1.2,-1.4,-2.1,-1.1,0.0,-0.9,-1.1,-1.2,-1.4,-1.2,-0.9,-0.8,-0.6,-0.7,-0.9,-0.3,-0.4,-0.6,-0.3,-0.5,-0.7,-0.4,-0.3,-0.4,-0.5,-0.4,-0.6,-1.6,-0.2,-0.3,-0.7,-0.4,-0.9,-0.5,0.0,-0.3,-0.4,-0.5,-0.7,-0.7,-0.1,0.2,-0.1,-0.3,-0.5,-0.6,-0.3,-0.4,-0.2,-0.3,-0.6,-0.8,-0.2,0.3,0.0,0.0,-0.3,-1.4,-0.2,0.3,-0.3],
[-0.5,-0.7,-1.1,-0.3,0.9,0.0,-0.3,-0.4,-0.5,-0.4,-0.1,0.0,0.2,0.1,-0.1,0.5,0.4,0.2,0.5,0.2,0.0,0.5,0.8,0.6,0.2,0.3,0.2,-0.2,0.6,0.6,0.1,0.4,0.0,0.3,0.9,0.6,0.4,0.2,0.1,0.1,0.8,1.1,0.8,0.6,0.3,0.2,0.6,0.4,0.7,0.5,0.2,0.1,0.7,1.2,0.9,0.8,0.5,0.0,0.7,1.2,0.6]];

// ---- LO-SO2 ----
const loSo2GlobalMean = [0.29,-0.31,-0.56,-0.49,-0.45,-0.41,-0.38,-0.32,-0.34,-0.27,-0.16,-0.09,-0.11,-0.07,-0.2,-0.09,0.0,-0.05,-0.09,-0.13,-0.16,-0.18,-0.09,0.07,0.02,0.0,-0.05,-0.02,0.13,0.09,0.04,0.05,0.11,0.13,0.18,0.23,0.18,0.14,0.09,0.02,0.04,0.05,0.14,0.13,0.05,-0.09,-0.07,0.02,0.02,-0.02,-0.09,-0.2,-0.13,-0.02,0.0,0.02,0.09,0.02,0.09,0.18,0.0];
const loSo2GlobalMembers = [
[0.3,-0.4,-0.78,-0.6,-0.6,-0.5,-0.5,-0.5,-0.6,-0.78,-0.4,-0.3,-0.3,-0.2,-0.3,-0.2,-0.1,-0.2,-0.2,-0.3,-0.3,-0.3,-0.2,-0.1,-0.1,-0.1,-0.2,-0.1,0.0,0.0,-0.1,-0.1,-0.2,-0.6,-0.1,0.0,0.0,-0.1,-0.1,-0.2,-0.1,-0.1,0.0,0.0,-0.1,-0.2,-0.2,-0.1,-0.2,-0.3,-0.4,-0.6,-0.4,-0.3,-0.2,-0.2,-0.1,-0.2,-0.1,0.0,-0.2],
[0.3,-0.2,-0.4,-0.3,-0.3,-0.3,-0.2,-0.1,-0.2,-0.1,0.1,0.2,0.1,0.2,0.0,0.1,0.2,0.2,0.1,0.0,0.0,0.0,0.1,0.2,0.2,0.2,0.1,0.2,0.3,0.55,0.3,0.3,0.3,0.3,0.4,0.55,0.4,0.3,0.3,0.2,0.3,0.2,0.3,0.3,0.3,0.1,0.1,0.2,0.2,0.2,0.1,0.1,0.1,0.2,0.2,0.2,0.3,0.3,0.55,0.4,0.2],
[0.3,-0.3,-0.6,-0.5,-0.5,-0.4,-0.4,-0.3,-0.4,-0.3,-0.2,-0.1,-0.1,-0.1,-0.2,-0.1,0.0,-0.1,-0.1,-0.1,-0.2,-0.2,-0.1,0.1,0.0,0.0,0.0,0.0,0.2,0.1,0.1,0.1,0.1,0.1,0.2,0.3,0.2,0.2,0.1,0.0,0.1,0.1,0.2,0.2,0.1,-0.1,0.0,0.0,0.0,0.0,-0.1,-0.2,-0.1,0.0,0.0,0.0,0.1,0.0,0.1,0.2,0.0],
[0.3,-0.3,-0.5,-0.4,-0.4,-0.3,-0.3,-0.3,-0.3,-0.2,-0.1,0.0,-0.1,0.0,-0.1,0.0,0.1,0.0,0.0,-0.1,-0.1,-0.1,0.0,0.1,0.1,0.1,0.0,0.1,0.2,0.2,0.1,0.1,0.2,0.2,0.2,0.3,0.3,0.2,0.2,0.1,0.1,0.1,0.2,0.2,0.1,0.0,0.0,0.1,0.1,0.0,0.0,-0.1,0.0,0.1,0.1,0.1,0.2,0.1,0.2,0.3,0.1],
[0.3,-0.4,-0.7,-0.6,-0.5,-0.5,-0.5,-0.4,-0.4,-0.4,-0.3,-0.2,-0.2,-0.1,-0.3,-0.2,-0.1,-0.1,-0.2,-0.2,-0.3,-0.3,-0.2,0.0,-0.1,-0.1,-0.1,-0.1,0.0,0.0,0.0,0.0,0.0,0.0,0.1,0.1,0.1,0.0,0.0,-0.1,0.0,0.0,0.1,0.0,0.0,-0.2,-0.2,-0.1,-0.1,-0.1,-0.2,-0.3,-0.2,-0.1,-0.1,-0.1,0.0,-0.1,0.0,0.1,-0.1],
[0.3,-0.3,-0.6,-0.5,-0.5,-0.4,-0.4,-0.4,-0.4,-0.3,-0.2,-0.2,-0.2,-0.1,-0.2,-0.1,-0.1,-0.1,-0.1,-0.2,-0.2,-0.2,-0.1,0.0,0.0,0.0,-0.1,0.0,0.1,0.1,0.0,0.0,0.1,0.1,0.1,0.2,0.1,0.1,0.0,0.0,0.0,0.0,0.1,0.1,0.0,-0.1,-0.1,0.0,0.0,-0.1,-0.1,-0.2,-0.1,0.0,0.0,0.0,0.1,0.0,0.1,0.1,0.0],
[0.3,-0.2,-0.5,-0.4,-0.4,-0.3,-0.3,-0.2,-0.3,-0.2,-0.1,0.0,0.0,0.0,-0.1,0.0,0.1,0.0,0.0,0.0,-0.1,-0.1,0.0,0.2,0.1,0.1,0.0,0.1,0.2,0.3,0.2,0.2,0.2,0.3,0.3,0.4,0.3,0.2,0.2,0.1,0.2,0.2,0.3,0.2,0.1,0.0,0.0,0.1,0.1,0.1,0.0,-0.1,0.0,0.1,0.1,0.1,0.2,0.2,0.3,0.3,0.1]];
const loSo2NhMean = [-0.48,-0.7,-1.06,-0.7,-0.52,-0.41,-0.55,-0.52,-0.59,-0.48,-0.09,-0.19,-0.19,-0.23,-0.37,-0.23,-0.12,-0.19,-0.12,-0.23,-0.3,-0.34,-0.12,0.02,-0.05,-0.05,-0.16,-0.01,0.2,0.13,0.13,0.09,0.02,0.13,0.2,0.27,0.13,0.15,0.11,-0.01,0.06,0.13,0.15,0.06,-0.09,-0.16,-0.23,-0.01,-0.01,-0.16,-0.23,-0.34,-0.16,0.09,0.13,0.09,0.2,0.06,0.02,0.38,0.17];
const loSo2NhMembers = [
[-0.7,-0.9,-1.5,-1.0,-0.8,-0.6,-0.8,-0.8,-0.9,-0.8,-0.3,-0.4,-0.4,-0.5,-0.7,-0.5,-0.4,-0.5,-0.4,-0.5,-0.6,-0.7,-0.4,-0.2,-0.3,-0.3,-0.4,-0.3,-0.1,-0.1,-0.2,-0.2,-0.3,-1.05,-0.2,0.0,-0.1,-0.1,-0.2,-0.3,-0.2,-0.1,-0.1,-0.2,-0.4,-0.6,-0.6,-0.3,-0.3,-0.5,-0.6,-0.8,-0.5,-0.2,-0.2,-0.3,-0.2,-0.3,-0.4,0.0,-0.8],
[-0.3,-0.5,-0.8,-0.4,-0.3,-0.2,-0.3,-0.3,-0.3,-0.2,0.1,0.1,0.1,0.0,-0.1,0.1,0.2,0.1,0.2,0.1,0.0,0.0,0.2,0.5,0.3,0.3,0.1,0.3,0.5,0.7,0.4,0.4,0.3,0.4,0.5,0.6,0.4,0.4,0.4,0.3,0.4,0.5,0.5,0.4,0.3,0.2,0.1,0.3,0.4,0.2,0.2,0.1,0.2,0.4,0.5,0.4,0.5,0.4,0.5,0.9,0.6],
[-0.5,-0.7,-1.1,-0.8,-0.6,-0.4,-0.6,-0.6,-0.7,-0.6,-0.2,-0.2,-0.2,-0.3,-0.4,-0.3,-0.2,-0.2,-0.2,-0.3,-0.4,-0.4,-0.2,0.0,-0.1,-0.1,-0.2,0.0,0.2,0.1,0.1,0.1,0.0,0.1,0.2,0.3,0.1,0.1,0.1,0.0,0.0,0.1,0.1,0.0,-0.1,-0.2,-0.3,0.0,0.0,-0.2,-0.3,-0.4,-0.2,0.1,0.1,0.1,0.2,0.0,0.0,0.4,0.1],
[-0.4,-0.6,-0.9,-0.6,-0.4,-0.3,-0.4,-0.4,-0.5,-0.3,0.0,-0.1,-0.1,-0.1,-0.3,-0.1,0.0,-0.1,0.0,-0.1,-0.2,-0.2,0.0,0.2,0.1,0.1,0.0,0.1,0.3,0.3,0.3,0.2,0.1,0.2,0.3,0.4,0.3,0.3,0.2,0.1,0.2,0.3,0.3,0.2,0.0,-0.1,-0.1,0.1,0.1,0.0,-0.1,-0.2,0.0,0.2,0.3,0.2,0.3,0.2,0.2,0.5,0.3],
[-0.6,-0.8,-1.3,-0.9,-0.7,-0.5,-0.7,-0.7,-0.8,-0.7,-0.2,-0.3,-0.3,-0.4,-0.6,-0.4,-0.3,-0.3,-0.3,-0.4,-0.5,-0.6,-0.3,-0.1,-0.2,-0.2,-0.3,-0.1,0.1,0.0,0.0,0.0,-0.1,0.0,0.1,0.1,0.0,0.0,0.0,-0.1,-0.1,0.0,0.0,-0.1,-0.2,-0.3,-0.4,-0.2,-0.2,-0.3,-0.4,-0.5,-0.3,-0.1,0.0,-0.1,0.1,-0.1,-0.1,0.2,0.0],
[-0.5,-0.8,-1.2,-0.8,-0.6,-0.5,-0.6,-0.6,-0.7,-0.6,-0.2,-0.3,-0.3,-0.3,-0.5,-0.3,-0.2,-0.3,-0.2,-0.3,-0.4,-0.5,-0.2,-0.1,-0.2,-0.2,-0.3,-0.1,0.1,0.1,0.0,0.0,-0.1,0.0,0.1,0.2,0.1,0.0,0.0,-0.1,0.0,0.1,0.1,0.0,-0.2,-0.3,-0.3,-0.1,-0.1,-0.3,-0.4,-0.5,-0.3,0.0,0.0,0.0,0.1,-0.1,-0.1,0.3,0.0],
[-0.4,-0.6,-1.0,-0.6,-0.4,-0.3,-0.5,-0.4,-0.5,-0.4,0.0,0.0,-0.1,-0.1,-0.2,-0.1,0.0,0.0,0.0,-0.1,-0.2,-0.2,0.0,0.2,0.1,0.1,0.0,0.1,0.3,0.3,0.2,0.2,0.1,0.3,0.3,0.4,0.3,0.3,0.2,0.1,0.2,0.3,0.3,0.2,0.1,0.0,-0.1,0.1,0.1,0.0,0.0,-0.1,0.0,0.2,0.3,0.2,0.3,0.2,0.2,0.6,0.3]];
const loSo2LandMean = [-0.82,-1.05,-1.74,-0.82,0.16,-0.36,-0.53,-0.59,-1.11,-0.65,-0.18,0.39,-0.36,-0.3,-0.41,-0.7,0.28,-0.13,-0.3,-0.41,-0.59,-0.76,-0.07,0.39,0.1,-0.18,-0.36,-0.24,0.16,0.48,0.16,-0.07,-0.13,-0.07,0.16,0.56,0.22,-0.07,-0.13,-0.59,0.05,0.05,0.1,-0.13,-0.7,-0.36,-0.01,0.16,0.1,-0.24,-0.41,-0.82,0.45,0.51,0.45,0.28,0.1,-0.24,0.45,0.91,0.22];
const loSo2LandMembers = [
[-0.4,-0.6,-1.2,-0.3,0.9,0.2,0.0,-0.1,-0.6,-0.1,0.4,1.2,0.2,0.3,0.1,-0.2,0.9,0.5,0.2,0.0,-0.1,-0.3,0.5,1.0,0.7,0.3,0.1,0.2,0.7,1.1,0.7,0.4,0.3,0.3,0.7,1.3,0.8,0.4,0.3,-0.1,0.6,0.7,0.7,0.4,-0.2,0.1,0.5,0.8,0.6,0.2,0.0,-0.3,1.0,1.2,1.1,0.8,0.6,0.3,1.1,1.5,0.8],
[-1.3,-1.6,-2.5,-1.4,-0.4,-0.9,-1.1,-1.2,-1.8,-1.3,-0.8,-0.2,-0.9,-0.8,-1.0,-1.5,-0.3,-0.7,-0.9,-1.0,-1.2,-1.5,-0.6,-0.1,-0.5,-0.7,-0.9,-0.8,-0.4,-0.1,-0.4,-0.6,-0.7,-0.7,-0.5,0.0,-0.4,-0.7,-0.8,-1.4,-0.6,-0.6,-0.5,-0.8,-1.6,-1.1,-0.6,-0.4,-0.5,-0.9,-1.1,-2.1,-0.2,-0.1,-0.2,-0.4,-0.6,-1.0,-0.3,0.2,-0.6],
[-0.9,-1.2,-1.9,-1.0,0.0,-0.5,-0.7,-0.8,-1.3,-0.8,-0.3,0.2,-0.5,-0.4,-0.6,-0.9,0.1,-0.3,-0.4,-0.6,-0.8,-1.0,-0.2,0.2,-0.1,-0.3,-0.5,-0.4,0.0,0.3,0.0,-0.2,-0.3,-0.2,0.0,0.4,0.1,-0.2,-0.3,-0.8,-0.1,-0.1,0.0,-0.3,-0.9,-0.5,-0.2,0.0,-0.1,-0.4,-0.6,-1.1,0.3,0.4,0.3,0.1,-0.1,-0.4,0.3,0.7,0.0],
[-0.6,-0.8,-1.4,-0.5,0.5,-0.1,-0.3,-0.3,-0.8,-0.4,0.1,0.7,-0.1,0.0,-0.2,-0.4,0.6,0.2,0.0,-0.2,-0.3,-0.5,0.2,0.7,0.4,0.1,-0.1,0.0,0.4,0.8,0.4,0.2,0.1,0.1,0.4,0.9,0.5,0.2,0.1,-0.3,0.3,0.3,0.4,0.1,-0.4,-0.1,0.2,0.5,0.3,0.0,-0.2,-0.5,0.8,0.9,0.8,0.5,0.3,0.0,0.8,1.2,0.5],
[-1.1,-1.3,-2.2,-1.1,-0.2,-0.6,-0.8,-0.9,-1.5,-1.0,-0.5,0.1,-0.6,-0.5,-0.7,-1.1,0.0,-0.4,-0.6,-0.7,-0.9,-1.2,-0.3,0.1,-0.2,-0.5,-0.6,-0.5,-0.1,0.2,-0.1,-0.3,-0.4,-0.3,-0.1,0.3,0.0,-0.3,-0.4,-1.0,-0.3,-0.3,-0.2,-0.4,-1.1,-0.7,-0.3,-0.1,-0.2,-0.5,-0.7,-1.6,0.2,0.2,0.1,0.0,-0.2,-0.6,0.1,0.6,-0.1],
[-1.0,-1.3,-2.0,-1.0,-0.1,-0.6,-0.7,-0.8,-1.4,-0.9,-0.4,0.1,-0.6,-0.5,-0.6,-1.0,0.1,-0.3,-0.5,-0.6,-0.8,-1.1,-0.3,0.2,-0.1,-0.4,-0.6,-0.4,0.0,0.3,0.0,-0.2,-0.3,-0.2,0.0,0.4,0.0,-0.3,-0.3,-0.9,-0.2,-0.2,-0.1,-0.3,-1.0,-0.6,-0.2,0.0,-0.1,-0.4,-0.6,-1.3,0.3,0.3,0.2,0.1,-0.1,-0.5,0.2,0.7,0.0],
[-0.5,-0.8,-1.5,-0.6,0.6,0.0,-0.2,-0.3,-0.9,-0.4,0.1,0.8,0.0,0.1,-0.1,-0.4,0.6,0.2,0.0,-0.1,-0.3,-0.5,0.2,0.7,0.4,0.1,-0.1,0.0,0.4,0.8,0.4,0.2,0.1,0.1,0.4,0.9,0.5,0.2,0.1,-0.3,0.3,0.3,0.4,0.1,-0.4,-0.1,0.2,0.4,0.3,0.0,-0.2,-0.5,0.7,0.8,0.8,0.5,0.3,0.0,0.8,1.2,0.5]];

const panels = [
  [{mean: hiHalGlobalMean, members: hiHalGlobalMembers}, {mean: hiHalNhMean, members: hiHalNhMembers}, {mean: hiHalLandMean, members: hiHalLandMembers}],
  [{mean: loHalGlobalMean, members: loHalGlobalMembers}, {mean: loHalNhMean, members: loHalNhMembers}, {mean: loHalLandMean, members: loHalLandMembers}],
  [{mean: hiSo2GlobalMean, members: hiSo2GlobalMembers}, {mean: hiSo2NhMean, members: hiSo2NhMembers}, {mean: hiSo2LandMean, members: hiSo2LandMembers}],
  [{mean: loSo2GlobalMean, members: loSo2GlobalMembers}, {mean: loSo2NhMean, members: loSo2NhMembers}, {mean: loSo2LandMean, members: loSo2LandMembers}]
];

// ---- layout / style ----
const svg = d3.select("#c");
const colX = [66, 289.3, 513.3], colW = 218;
const rowY = [23, 260.5, 498, 735.5], rowH = 231.7;
const yDomains = [[-1.5, 1], [-1.5, 1], [-2.5, 1.5]];
const memberColor = ["#6aa88a", "#6aa88a", "#3d93e0"];
const meanColor = ["#0d5c66", "#0d5c66", "#0a4476"];
const fontTick = 16.5;

panels.forEach((row, r) => row.forEach((p, c) => {
  const x = d3.scaleLinear().domain([0, 10]).range([colX[c], colX[c] + colW]);
  const y = d3.scaleLinear().domain(yDomains[c]).range([rowY[r] + rowH, rowY[r]]);
  const id = `clip${r}${c}`;
  svg.append("clipPath").attr("id", id).append("rect")
    .attr("x", colX[c]).attr("y", rowY[r]).attr("width", colW).attr("height", rowH);
  const g = svg.append("g").attr("clip-path", `url(#${id})`);
  const line = d3.line().x((d, i, arr) => x(i * 10 / (arr.length - 1))).y(d => y(d));
  g.selectAll("path.member").data(p.members).join("path").attr("class", "member")
    .attr("d", d => line(d)).attr("fill", "none").attr("stroke", memberColor[c])
    .attr("stroke-opacity", 0.5).attr("stroke-width", 1.5).attr("stroke-linejoin", "round");
  g.append("path").attr("d", line(p.mean)).attr("fill", "none").attr("stroke", meanColor[c])
    .attr("stroke-width", 3.2).attr("stroke-linejoin", "round");
  g.append("line").attr("x1", x(0)).attr("x2", x(10)).attr("y1", y(0)).attr("y2", y(0))
    .attr("stroke", "#000").attr("stroke-width", 1.3);
  const rec = recoveryYears[r][c];
  if (rec !== null) {
    g.append("line").attr("x1", x(rec)).attr("x2", x(rec)).attr("y1", rowY[r]).attr("y2", rowY[r] + rowH)
      .attr("stroke", "#f2404f").attr("stroke-width", 1.6).attr("stroke-dasharray", "7,4");
  }
  // axes (inward ticks on all sides)
  const yt = c === 2 ? yTicksRight : yTicksLeft;
  const style = a => {
    a.select(".domain").remove();
    a.selectAll(".tick line").attr("stroke", "#000").attr("stroke-width", 1);
    a.selectAll("text").attr("font-size", fontTick).attr("font-family", "DejaVu Sans").attr("fill", "#000");
  };
  svg.append("g").attr("transform", `translate(0,${rowY[r] + rowH})`)
    .call(d3.axisBottom(x).tickValues(xTicks).tickSize(-5).tickPadding(8)
      .tickFormat(r === 3 ? d3.format("d") : () => "")).call(style);
  svg.append("g").attr("transform", `translate(0,${rowY[r]})`)
    .call(d3.axisTop(x).tickValues(xTicks).tickSize(-5).tickFormat(() => "")).call(style);
  svg.append("g").attr("transform", `translate(${colX[c]},0)`)
    .call(d3.axisLeft(y).tickValues(yt).tickSize(-5).tickPadding(8)
      .tickFormat(c === 0 ? d3.format("d") : () => "")).call(style);
  svg.append("g").attr("transform", `translate(${colX[c] + colW},0)`)
    .call(d3.axisRight(y).tickValues(yt).tickSize(-5).tickPadding(7)
      .tickFormat(c === 2 ? d3.format("d") : () => "")).call(style);
  svg.append("rect").attr("x", colX[c]).attr("y", rowY[r]).attr("width", colW).attr("height", rowH)
    .attr("fill", "none").attr("stroke", "#000").attr("stroke-width", 1.5);
  if (c === 0) {
    svg.append("text").attr("x", colX[c] + 12).attr("y", rowY[r] + 25).attr("font-size", 17)
      .attr("fill", "#156570").text(experiments[r]);
  }
}));

columns.forEach((t, c) => {
  svg.append("text").attr("x", colX[c] + colW / 2).attr("y", 18.8).attr("text-anchor", "middle")
    .attr("font-size", 20).attr("fill", "#000").text(t);
});
svg.append("text").attr("transform", "translate(20,493) rotate(-90)").attr("text-anchor", "middle")
  .attr("font-size", 21).attr("fill", "#000").text("Temperature Anomaly / °C");
svg.append("text").attr("x", 389).attr("y", 1018).attr("text-anchor", "middle")
  .attr("font-size", 20.5).attr("fill", "#000").text("Years After Eruption");
</script></body></html>
